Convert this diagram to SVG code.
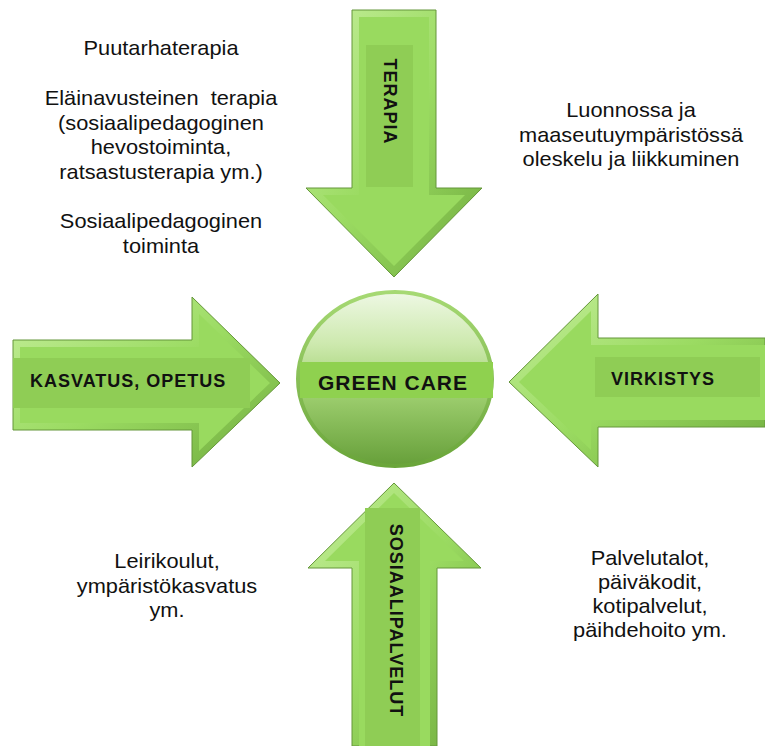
<svg xmlns="http://www.w3.org/2000/svg" width="765" height="746" viewBox="0 0 765 746">
<defs>
<linearGradient id="bevel" x1="0" y1="0" x2="1" y2="1">
<stop offset="0" stop-color="#c4ee9a"/>
<stop offset="0.5" stop-color="#9bdb62"/>
<stop offset="1" stop-color="#6fab3d"/>
</linearGradient>
<linearGradient id="ball" x1="0" y1="0" x2="0" y2="1">
<stop offset="0" stop-color="#eef8e4"/>
<stop offset="0.3" stop-color="#cde9ae"/>
<stop offset="0.55" stop-color="#a3d374"/>
<stop offset="1" stop-color="#669f39"/>
</linearGradient>
<linearGradient id="ring" x1="0" y1="0" x2="0" y2="1">
<stop offset="0" stop-color="#a6d973"/>
<stop offset="1" stop-color="#6aa53a"/>
</linearGradient>
</defs>
<style>
.outer{fill:url(#bevel);stroke:#65963a;stroke-width:1}
.inner{fill:#99da5f}
.box{fill:#8fcd55}
.lab{font-family:"Liberation Sans",Arial,sans-serif;font-weight:bold;font-size:18px;letter-spacing:1px;fill:#111}
.txt{font-family:"Liberation Sans",Arial,sans-serif;font-size:20px;fill:#111;text-anchor:middle}
</style>
<g id="connectors">
<g id="arrow-terapia">
<polygon class="outer" points="352,10 436,10 436,188 482,188 394,277 306,188 352,188"/>
<polygon class="inner" points="359,17 429,17 429,195 465,195 394,266 323,195 359,195"/>
<rect class="box" x="366" y="45" width="47" height="142"/>
<text class="lab" transform="translate(384,101.5) rotate(90)" text-anchor="middle">TERAPIA</text>
</g>
<g id="arrow-kasvatus">
<polygon class="outer" points="13,340 192,340 192,297 280,383 192,467 192,430 13,430"/>
<polygon class="inner" points="20,347 199,347 199,314 270,383 199,451 199,423 20,423"/>
<rect class="box" x="13" y="358" width="237" height="50"/>
<text class="lab" x="30" y="387">KASVATUS, OPETUS</text>
</g>
<g id="arrow-virkistys">
<polygon class="outer" points="765,338 598,338 598,294 509,382 598,467 598,427 765,427"/>
<polygon class="inner" points="765,345 591,345 591,311 519,382 591,450 591,420 765,420"/>
<rect class="box" x="595" y="357" width="165" height="40"/>
<text class="lab" x="611" y="385">VIRKISTYS</text>
</g>
<g id="arrow-sosiaali">
<polygon class="outer" points="352,746 352,568 308,568 394,483 481,568 437,568 437,746"/>
<polygon class="inner" points="359,746 359,561 325,561 394,493 464,561 430,561 430,746"/>
<rect class="box" x="365" y="508" width="55" height="238"/>
<text class="lab" transform="translate(390,620.5) rotate(90)" text-anchor="middle">SOSIAALIPALVELUT</text>
</g>
</g>
<g id="green-care">
<ellipse cx="395" cy="379" rx="97" ry="87" fill="url(#ball)" stroke="url(#ring)" stroke-width="4"/>
<rect x="300" y="362" width="193" height="36" fill="#8fd14f"/>
<text class="lab" x="318" y="390" style="font-size:21px">GREEN CARE</text>
</g>
<g id="text-terapia">
<g transform="matrix(1.09 0 0 1 161 0)">
<text class="txt" x="0" y="55">Puutarhaterapia</text>
<text class="txt" x="0" y="105">Eläinavusteinen&#160; terapia</text>
<text class="txt" x="0" y="130">(sosiaalipedagoginen</text>
<text class="txt" x="0" y="154">hevostoiminta,</text>
<text class="txt" x="0" y="179">ratsastusterapia ym.)</text>
<text class="txt" x="0" y="228">Sosiaalipedagoginen</text>
<text class="txt" x="0" y="253">toiminta</text>
</g>
</g>
<g id="text-virkistys">
<g transform="matrix(1.09 0 0 1 631 0)">
<text class="txt" x="0" y="117">Luonnossa ja</text>
<text class="txt" x="0" y="142">maaseutuympäristössä</text>
<text class="txt" x="0" y="166">oleskelu ja liikkuminen</text>
</g>
</g>
<g id="text-kasvatus">
<g transform="matrix(1.09 0 0 1 167 0)">
<text class="txt" x="0" y="568">Leirikoulut,</text>
<text class="txt" x="0" y="593">ympäristökasvatus</text>
<text class="txt" x="0" y="617">ym.</text>
</g>
</g>
<g id="text-sosiaali">
<g transform="matrix(1.09 0 0 1 650 0)">
<text class="txt" x="0" y="565">Palvelutalot,</text>
<text class="txt" x="0" y="589">päiväkodit,</text>
<text class="txt" x="0" y="613">kotipalvelut,</text>
<text class="txt" x="0" y="637">päihdehoito ym.</text>
</g>
</g>
</svg>
